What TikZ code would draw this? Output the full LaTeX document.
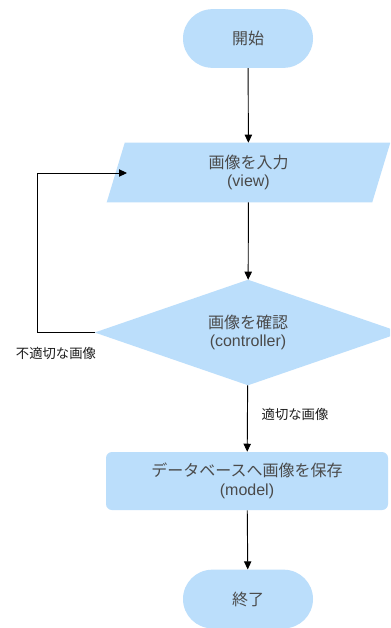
\documentclass[tikz,border=0pt]{standalone}
\usepackage{fontspec}
\setmainfont{Liberation Sans}
\newfontfamily\jp{Noto Sans CJK JP}
\usetikzlibrary{shapes.geometric,shapes.misc,arrows.meta}
\definecolor{boxfill}{HTML}{BBDEFB}
\definecolor{boxtext}{HTML}{4A4A4A}
\definecolor{labtext}{HTML}{1E1E1E}
\tikzset{
  arr/.style={draw=black, line width=0.7pt, -{Triangle[length=6pt,width=5.5pt]}},
  txt/.style={text=boxtext, font=\fontsize{12}{14}\selectfont, align=center, inner sep=0pt},
  term/.style={txt, rounded rectangle, fill=boxfill, minimum width=97.5pt, minimum height=44pt},
  proc/.style={txt, rounded corners=4.5pt, fill=boxfill, minimum width=211.5pt, minimum height=43.5pt},
  decbox/.style={txt, minimum width=229.5pt, minimum height=78.75pt},
  plain/.style={txt, minimum width=212.25pt, minimum height=44.25pt},
  lab/.style={text=labtext, font=\jp\fontsize{10}{12}\selectfont, inner sep=0pt}
}
\begin{document}
\begin{tikzpicture}[x=0.75pt,y=-0.75pt]
\useasboundingbox (0,0) rectangle (390,628);
\clip (0,0) rectangle (390,628);
\fill[white] (0,0) rectangle (390,628);
% nodes
\node[term] (start) at (248,38.5) {\jp 開始};
\node[plain] (in) at (248.5,172.5) {};
\fill[boxfill] ([xshift=13.5pt]in.north west) -- (in.north east) -- ([xshift=-13.5pt]in.south east) -- (in.south west) -- cycle;
\node[txt] (intext) at (in.center) {{\jp 画像を入力}\\(view)};
\node[decbox] (chk) at (248,332.5) {};
\fill[boxfill] (chk.west) -- (chk.north) -- (chk.east) -- (chk.south) -- cycle;
\node[txt] (chktext) at (chk.center) {{\jp 画像を確認}\\(controller)};
\node[proc] (save) at (247,481) {{\jp データベースへ画像を保存}\\(model)};
\node[term] (end) at (248,599) {\jp 終了};
% connectors
\coordinate (loopend) at (127,173);
\draw[arr] (start) -- (in);
\draw[arr] (in) -- (chk);
\draw[arr] (chk) -- (save);
\draw[arr] (save) -- (end);
\draw[arr] (chk.west) -- ++(-57,0) |- (loopend);
% labels
\node[lab] (ng) at (56,353) {不適切な画像};
\node[lab] (ok) at (295,414) {適切な画像};
\end{tikzpicture}
\end{document}
